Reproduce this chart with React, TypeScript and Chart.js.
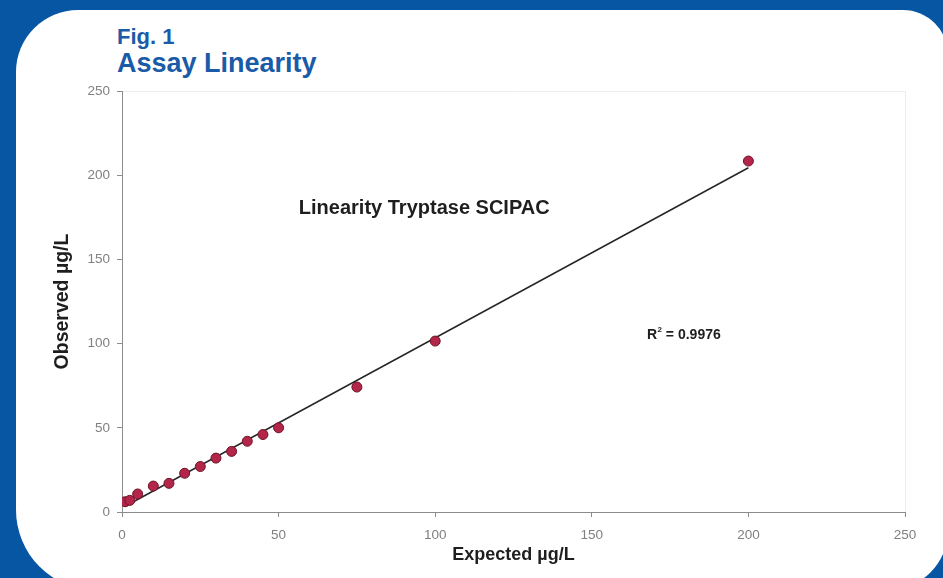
import React, { useEffect, useRef } from "react";
import { Chart, registerables } from "chart.js";

Chart.register(...registerables);

// ---- data ----
const expected = [1, 2.5, 5, 10, 15, 20, 25, 30, 35, 40, 45, 50, 75, 100, 200];
const observed = [6.1, 6.9, 10.7, 15.4, 17, 23, 27, 32, 36, 42, 46, 50, 74.2, 101.5, 208.4];
const axisMin = 0;
const axisMax = 250;
const axisStep = 50;
const figLabel = "Fig. 1";
const figTitle = "Assay Linearity";
const chartLabel = "Linearity Tryptase SCIPAC";
const r2Label = "0.9976";
const xTitle = "Expected µg/L";
const yTitle = "Observed µg/L";

const FONT = "'Liberation Sans', Arial, sans-serif";

// least-squares trendline from the data
function fit(xs: number[], ys: number[]) {
  const n = xs.length;
  const mx = xs.reduce((a, b) => a + b, 0) / n;
  const my = ys.reduce((a, b) => a + b, 0) / n;
  let sxy = 0, sxx = 0;
  for (let i = 0; i < n; i++) {
    sxy += (xs[i] - mx) * (ys[i] - my);
    sxx += (xs[i] - mx) * (xs[i] - mx);
  }
  const slope = sxy / sxx;
  return { slope, intercept: my - slope * mx };
}

const annotationPlugin = {
  id: "annotations",
  beforeDraw(chart: any) {
    const { ctx, chartArea } = chart;
    ctx.save();
    ctx.strokeStyle = "#ececec";
    ctx.lineWidth = 1;
    ctx.beginPath();
    ctx.moveTo(chartArea.left, chartArea.top + 0.5);
    ctx.lineTo(chartArea.right + 0.5, chartArea.top + 0.5);
    ctx.lineTo(chartArea.right + 0.5, chartArea.bottom);
    ctx.stroke();
    ctx.restore();
  },
  afterDatasetsDraw(chart: any) {
    const { ctx, scales } = chart;
    const xs = scales.x;
    const ys = scales.y;
    ctx.save();
    ctx.fillStyle = "#1e1e1e";
    ctx.textBaseline = "middle";
    ctx.font = `bold 20px ${FONT}`;
    ctx.textAlign = "center";
    ctx.fillText(chartLabel, xs.getPixelForValue(96.5), ys.getPixelForValue(180));

    const rx = xs.getPixelForValue(167.6);
    const ry = ys.getPixelForValue(105);
    ctx.textAlign = "left";
    ctx.font = `bold 14px ${FONT}`;
    ctx.fillText("R", rx, ry);
    const w1 = ctx.measureText("R").width;
    ctx.font = `bold 8px ${FONT}`;
    ctx.fillText("2", rx + w1 + 0.5, ry - 5);
    const w2 = ctx.measureText("2").width;
    ctx.font = `bold 14px ${FONT}`;
    ctx.fillText(" = " + r2Label, rx + w1 + w2 + 0.5, ry);
    ctx.restore();
  },
};

function LinearityChart() {
  const ref = useRef<HTMLCanvasElement | null>(null);
  useEffect(() => {
    if (!ref.current) return;
    const { slope, intercept } = fit(expected, observed);
    const xMin = Math.min(...expected);
    const xMax = Math.max(...expected);
    const trend = [
      { x: xMin, y: intercept + slope * xMin },
      { x: xMax, y: intercept + slope * xMax },
    ];
    const points = expected.map((x, i) => ({ x, y: observed[i] }));
    const tickFont = { family: FONT, size: 13.5 };
    const xTitleFont = { family: FONT, size: 18, weight: "bold" as const };
    const yTitleFont = { family: FONT, size: 19.5, weight: "bold" as const };
    const chart = new Chart(ref.current, {
      type: "scatter",
      data: {
        datasets: [
          {
            type: "line",
            label: "Trend",
            data: trend,
            borderColor: "#262626",
            borderWidth: 1.5,
            pointRadius: 0,
            fill: false,
            order: 2,
          } as any,
          {
            label: "Observed",
            data: points,
            backgroundColor: "#b3264a",
            borderColor: "#6e1426",
            borderWidth: 1,
            pointRadius: 5,
            order: 1,
          },
        ],
      },
      options: {
        animation: false,
        responsive: false,
        maintainAspectRatio: false,
        layout: { padding: { left: 51, right: 38, top: 91, bottom: 12 } },
        plugins: { legend: { display: false }, tooltip: { enabled: false }, title: { display: false } },
        scales: {
          x: {
            type: "linear",
            min: axisMin,
            max: axisMax,
            ticks: { stepSize: axisStep, color: "#808080", font: tickFont, padding: 10 },
            grid: { drawOnChartArea: false, color: "#8c8c8c", tickLength: 5 },
            border: { color: "#8c8c8c", width: 1 },
            title: { display: true, text: xTitle, color: "#1e1e1e", font: xTitleFont, padding: 0 },
            afterFit: (s: any) => { s.height = 54; },
          },
          y: {
            type: "linear",
            min: axisMin,
            max: axisMax,
            ticks: { stepSize: axisStep, color: "#808080", font: tickFont, padding: 7 },
            grid: { drawOnChartArea: false, color: "#8c8c8c", tickLength: 5 },
            border: { color: "#8c8c8c", width: 1 },
            title: { display: true, text: yTitle, color: "#1e1e1e", font: yTitleFont, padding: 0 },
            afterFit: (s: any) => { s.width = 71; },
          },
        },
      },
      plugins: [annotationPlugin],
    });
    return () => chart.destroy();
  }, []);
  return <canvas ref={ref} width={943} height={578} style={{ position: "absolute", left: 0, top: 0 }} />;
}

export default function App() {
  return (
    <div
      style={{
        position: "absolute",
        left: 0,
        top: 0,
        width: 943,
        height: 578,
        overflow: "hidden",
        background: "#0756a4",
      }}
    >
      <div
        style={{
          position: "absolute",
          left: 16,
          top: 10,
          width: 932,
          height: 580,
          background: "#ffffff",
          borderTopLeftRadius: 62,
          borderTopRightRadius: 45,
          borderBottomRightRadius: 60,
          borderBottomLeftRadius: 80,
        }}
      />
      <div
        style={{
          position: "absolute",
          left: 117,
          top: 26,
          color: "#1a5ba8",
          fontFamily: FONT,
          fontWeight: 700,
          fontSize: 22,
          lineHeight: 1,
          whiteSpace: "nowrap",
        }}
      >
        {figLabel}
      </div>
      <div
        style={{
          position: "absolute",
          left: 117,
          top: 50,
          color: "#1a5ba8",
          fontFamily: FONT,
          fontWeight: 700,
          fontSize: 27,
          lineHeight: 1,
          whiteSpace: "nowrap",
        }}
      >
        {figTitle}
      </div>
      <LinearityChart />
    </div>
  );
}
